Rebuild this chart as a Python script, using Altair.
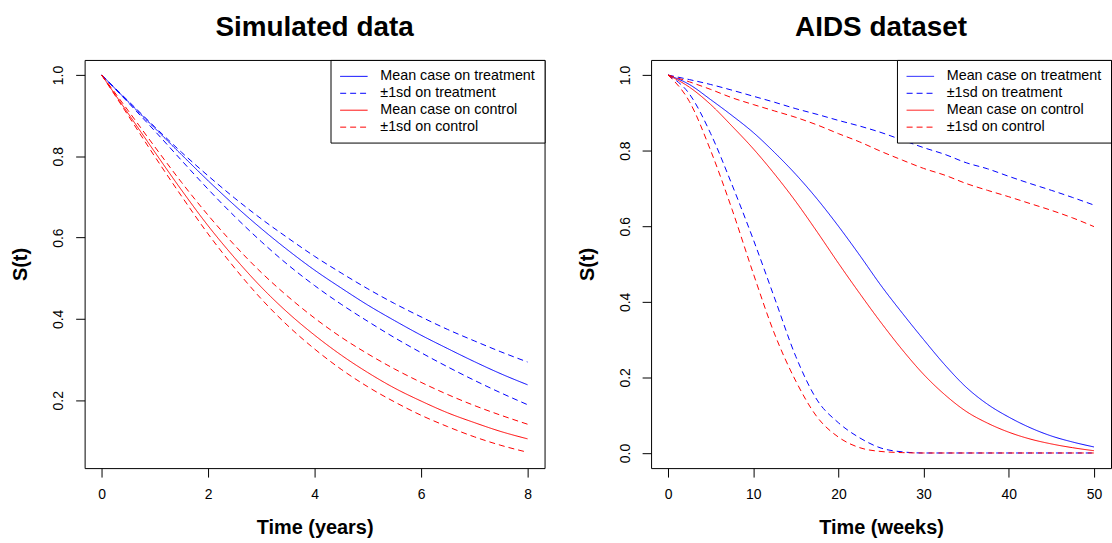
import altair as alt
import pandas as pd

# ---------------- data ----------------
legend_labels = ["Mean case on treatment", "±1sd on treatment",
                 "Mean case on control", "±1sd on control"]
line_colors = ["blue", "blue", "red", "red"]
line_dashes = [[1, 0], [6, 4], [1, 0], [6, 4]]

# Simulated data (time in years)
sim_time = [0, 0.5, 1, 1.5, 2, 2.5, 3, 3.5, 4, 4.5, 5, 5.5, 6, 6.5, 7, 7.5, 8]
sim_trt_mean = [1.0, 0.934, 0.869, 0.804, 0.740, 0.679, 0.622, 0.569, 0.520, 0.476,
                0.434, 0.396, 0.360, 0.327, 0.295, 0.265, 0.238]
sim_trt_upper = [1.0, 0.936, 0.872, 0.810, 0.752, 0.697, 0.646, 0.599, 0.554, 0.513,
                 0.474, 0.438, 0.405, 0.374, 0.346, 0.319, 0.294]
sim_trt_lower = [1.0, 0.932, 0.862, 0.790, 0.719, 0.652, 0.590, 0.533, 0.482, 0.436,
                 0.394, 0.354, 0.317, 0.282, 0.249, 0.218, 0.189]
sim_ctl_mean = [1.0, 0.905, 0.810, 0.717, 0.629, 0.550, 0.478, 0.415, 0.360, 0.311,
                0.268, 0.230, 0.198, 0.169, 0.145, 0.123, 0.105]
sim_ctl_upper = [1.0, 0.912, 0.823, 0.736, 0.655, 0.581, 0.514, 0.455, 0.402, 0.355,
                 0.314, 0.277, 0.244, 0.214, 0.187, 0.163, 0.141]
sim_ctl_lower = [1.0, 0.900, 0.799, 0.702, 0.609, 0.525, 0.449, 0.383, 0.326, 0.276,
                 0.233, 0.196, 0.163, 0.135, 0.110, 0.089, 0.072]

# AIDS dataset (time in weeks)
aids_time = [0, 2.5, 5, 7.5, 10, 12.5, 15, 17.5, 20, 22.5, 25, 27.5, 30, 32.5, 35,
             37.5, 40, 42.5, 45, 47.5, 50]
aids_trt_mean = [1.0, 0.975, 0.935, 0.893, 0.848, 0.795, 0.737, 0.672, 0.600, 0.523,
                 0.443, 0.370, 0.300, 0.233, 0.174, 0.129, 0.095, 0.067, 0.045, 0.029, 0.016]
aids_trt_upper = [1.0, 0.988, 0.975, 0.960, 0.944, 0.928, 0.911, 0.896, 0.880, 0.865,
                  0.848, 0.828, 0.808, 0.790, 0.768, 0.752, 0.732, 0.713, 0.695, 0.676, 0.656]
aids_trt_lower = [1.0, 0.950, 0.845, 0.710, 0.565, 0.410, 0.255, 0.140, 0.080, 0.040,
                  0.013, 0.003, 0.0, 0.0, 0.0, 0.0, 0.0, 0.0, 0.0, 0.0, 0.0]
aids_ctl_mean = [1.0, 0.968, 0.922, 0.865, 0.805, 0.738, 0.665, 0.585, 0.502, 0.422,
                 0.345, 0.273, 0.208, 0.154, 0.110, 0.079, 0.055, 0.037, 0.024, 0.014, 0.006]
aids_ctl_upper = [1.0, 0.982, 0.962, 0.940, 0.922, 0.905, 0.888, 0.868, 0.845, 0.823,
                  0.798, 0.775, 0.753, 0.735, 0.713, 0.695, 0.678, 0.660, 0.642, 0.622, 0.599]
aids_ctl_lower = [1.0, 0.930, 0.800, 0.645, 0.475, 0.315, 0.190, 0.095, 0.042, 0.014,
                  0.004, 0.001, 0.0, 0.0, 0.0, 0.0, 0.0, 0.0, 0.0, 0.0, 0.0]


def build(times, groups):
    rows = []
    for line_id, (label, values) in enumerate(groups):
        for t, v in zip(times, values):
            rows.append({"t": t, "s": v, "series": label, "line": line_id})
    return pd.DataFrame(rows)


sim_df = build(sim_time, [
    (legend_labels[0], sim_trt_mean),
    (legend_labels[1], sim_trt_upper),
    (legend_labels[1], sim_trt_lower),
    (legend_labels[2], sim_ctl_mean),
    (legend_labels[3], sim_ctl_upper),
    (legend_labels[3], sim_ctl_lower),
])
aids_df = build(aids_time, [
    (legend_labels[0], aids_trt_mean),
    (legend_labels[1], aids_trt_upper),
    (legend_labels[1], aids_trt_lower),
    (legend_labels[2], aids_ctl_mean),
    (legend_labels[3], aids_ctl_upper),
    (legend_labels[3], aids_ctl_lower),
])

FONT = "Liberation Sans"
PW, PH = 462, 410


def panel(df, title, xtitle, xdomain, xticks, ydomain, yticks):
    leg = alt.Legend(title=None)
    return alt.Chart(df).mark_line(strokeWidth=1, interpolate="monotone").encode(
        x=alt.X("t:Q", title=xtitle,
                scale=alt.Scale(domain=xdomain, nice=False, zero=False),
                axis=alt.Axis(values=xticks, format="d")),
        y=alt.Y("s:Q", title="S(t)",
                scale=alt.Scale(domain=ydomain, nice=False, zero=False),
                axis=alt.Axis(values=yticks, format=".1f")),
        color=alt.Color("series:N", legend=leg,
                        scale=alt.Scale(domain=legend_labels, range=line_colors)),
        strokeDash=alt.StrokeDash("series:N", legend=leg,
                                  scale=alt.Scale(domain=legend_labels, range=line_dashes)),
        detail="line:N",
    ).properties(width=PW, height=PH, title=title)


left = panel(sim_df, "Simulated data", "Time (years)", [-0.32, 8.32],
             [0, 2, 4, 6, 8], [0.033, 1.037], [0.2, 0.4, 0.6, 0.8, 1.0])
right = panel(aids_df, "AIDS dataset", "Time (weeks)", [-2, 52],
              [0, 10, 20, 30, 40, 50], [-0.04, 1.04], [0.0, 0.2, 0.4, 0.6, 0.8, 1.0])

chart = alt.hconcat(left, right, spacing=31).resolve_scale(
    color="independent", strokeDash="independent"
).resolve_legend(
    color="independent", strokeDash="independent"
).properties(
    padding={"left": 10, "top": 12, "right": 0, "bottom": 0},
    background="white",
).configure_view(
    stroke="black", strokeWidth=1
).configure_axis(
    labelFont=FONT, labelFontSize=14, labelColor="black",
    tickColor="black", tickSize=9, tickWidth=1, domain=False, grid=False,
    titleFont=FONT, titleFontSize=20, titleFontWeight="bold", titleColor="black",
).configure_axisX(
    labelPadding=11, titlePadding=16,
).configure_axisY(
    labelAngle=270, labelAlign="center", labelBaseline="middle",
    labelPadding=17, titlePadding=21,
).configure_title(
    font=FONT, fontSize=28, fontWeight="bold", color="black",
    anchor="middle", frame="group", offset=18,
).configure_legend(
    orient="top-right", offset=0, strokeColor="black", fillColor="white",
    padding=9, labelFont=FONT, labelFontSize=14.4, labelColor="black",
    symbolType="M-2,0H2", symbolSize=190, symbolStrokeWidth=1,
    symbolOffset=7, labelOffset=19, rowPadding=2, labelLimit=400,
)

chart.save("out.html", embed_options={"renderer": "svg", "actions": False})
